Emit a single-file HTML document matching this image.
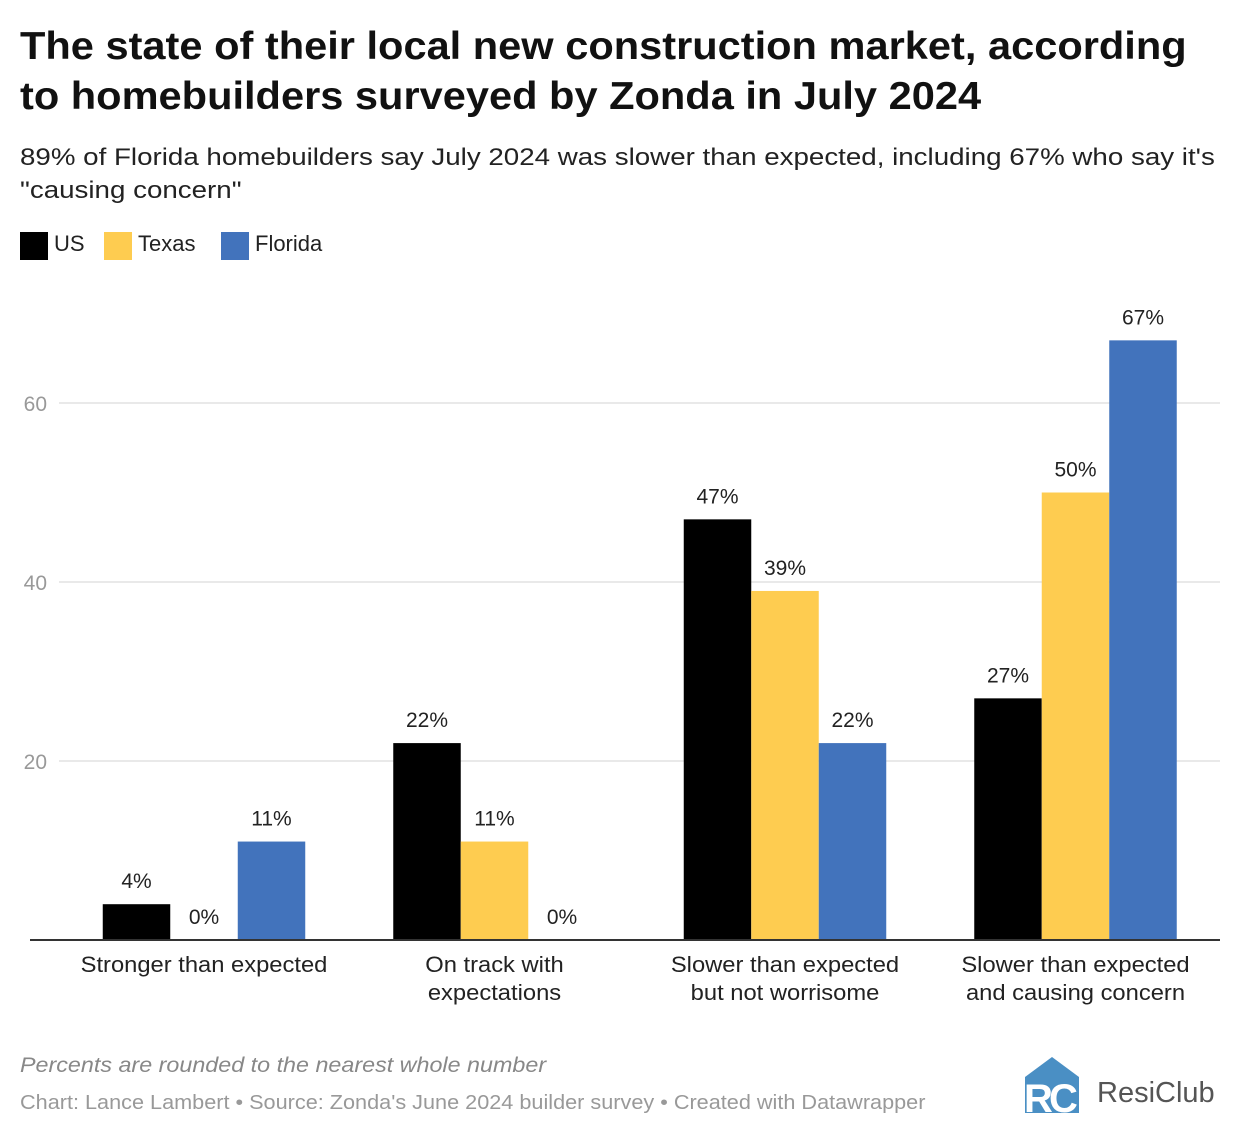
<!DOCTYPE html>
<html><head><meta charset="utf-8"><style>
body{margin:0;background:#fff;font-family:"Liberation Sans",sans-serif;width:1240px;height:1138px;overflow:hidden;position:relative}
.t{position:absolute;white-space:nowrap;transform-origin:0 0}
</style></head><body>
<div class="t" style="left:20px;top:22px;font-size:39px;font-weight:bold;line-height:50px;color:#111;transform:scaleX(1.066)">The state of their local new construction market, according<br>to homebuilders surveyed by Zonda in July 2024</div>
<div class="t" style="left:20px;top:141px;font-size:24px;line-height:33px;color:#222;transform:scaleX(1.155)">89% of Florida homebuilders say July 2024 was slower than expected, including 67% who say it's<br>"causing concern"</div>
<div style="position:absolute;left:20px;top:230px;font-size:22px;color:#222">
<span style="position:absolute;left:0;top:2px;width:28px;height:28px;background:#000"></span><span class="t" style="left:34px;top:1px">US</span>
<span style="position:absolute;left:84px;top:2px;width:28px;height:28px;background:#fecc50"></span><span class="t" style="left:118px;top:1px">Texas</span>
<span style="position:absolute;left:201px;top:2px;width:28px;height:28px;background:#4273bc"></span><span class="t" style="left:235px;top:1px">Florida</span>
</div>
<svg id="chart" width="1240" height="1138" style="position:absolute;left:0;top:0"></svg>
<div class="t" style="left:20px;top:1054px;font-size:21px;font-style:italic;color:#888;transform:scaleX(1.11)">Percents are rounded to the nearest whole number</div>
<div class="t" style="left:20px;top:1092px;font-size:20px;color:#999;transform:scaleX(1.083)">Chart: Lance Lambert • Source: Zonda's June 2024 builder survey • Created with Datawrapper</div>
<svg width="70" height="70" style="position:absolute;left:1020px;top:1052px">
<polygon points="5,25 32,5 59,25 59,61 5,61" fill="#4a8fc4"/>
<text x="4" y="60" font-family="Liberation Sans" font-weight="bold" font-size="40" fill="#fff">R</text>
<text x="29" y="60" font-family="Liberation Sans" font-weight="bold" font-size="40" fill="#fff">C</text>
</svg>
<div class="t" style="left:1097px;top:1077px;font-size:29px;color:#555">ResiClub</div>
<script>
const categories=[["Stronger than expected"],["On track with","expectations"],["Slower than expected","but not worrisome"],["Slower than expected","and causing concern"]];
const seriesNames=["US","Texas","Florida"];
const usValues=[4,22,47,27];
const texasValues=[0,11,39,50];
const floridaValues=[11,0,22,67];
const yTicks=[20,40,60];
const colors=["#000000","#fecc50","#4273bc"];
const svg=document.getElementById('chart');
const NS="http://www.w3.org/2000/svg";
const y0=940,pxPerUnit=8.95;
const y=v=>y0-v*pxPerUnit;
const groupCenter=i=>204+i*290.5;
const barW=67.5;
function el(t,a){const e=document.createElementNS(NS,t);for(const k in a)e.setAttribute(k,a[k]);svg.appendChild(e);return e;}
yTicks.forEach(t=>{
 const l=el('line',{x1:59,x2:1220,y1:y(t),y2:y(t),stroke:'#e2e2e2','stroke-width':1.5});
 
 
 const tx=el('text',{x:47,y:y(t)+8,'text-anchor':'end','font-size':21,fill:'#999','font-family':'Liberation Sans'});
 tx.textContent=t;
 
 
});
const all=[usValues,texasValues,floridaValues];
categories.forEach((c,i)=>{
 all.forEach((vals,s)=>{
  const x=groupCenter(i)-1.5*barW+s*barW;
  const v=vals[i];
  const r=el('rect',{x:x,y:y(v),width:barW,height:v*pxPerUnit,fill:colors[s]});
  
  
  const lb=el('text',{x:x+barW/2,y:y(v)-16,'text-anchor':'middle','font-size':21,fill:'#222','font-family':'Liberation Sans'});
  lb.textContent=v+'%';
  
  
 });
 c.forEach((line,k)=>{
  const t=el('text',{x:groupCenter(i),y:972+k*28,'text-anchor':'middle','font-size':22,fill:'#222','font-family':'Liberation Sans',transform:`translate(${groupCenter(i)},0) scale(1.08,1) translate(${-groupCenter(i)},0)`});
  t.textContent=line;
  
  
 });
});
const ax=el('line',{x1:30,x2:1220,y1:y0,y2:y0,stroke:'#333','stroke-width':2});


</script>
</body></html>
